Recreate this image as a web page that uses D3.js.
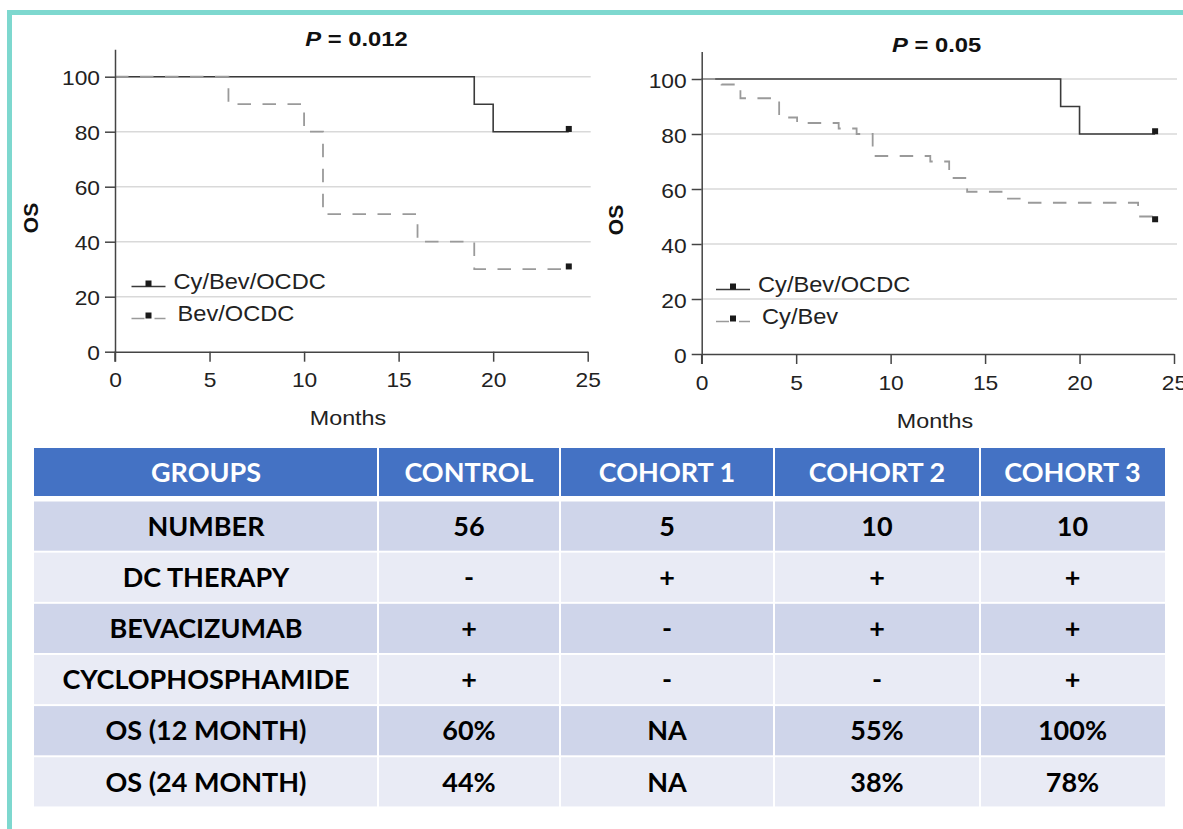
<!DOCTYPE html>
<html><head><meta charset="utf-8">
<script src="https://cdn.jsdelivr.net/npm/d3@7"></script>
<style>
body{margin:0;background:#fff;}
svg{display:block;}
</style>
</head><body>
<svg id="c" width="1183" height="829"></svg>
<script>
// ---------- DATA ----------
const xTicks = [0, 5, 10, 15, 20, 25];
const yTicks = [0, 20, 40, 60, 80, 100];
const gridTicks = [20, 40, 60, 80, 100];

const leftTitle = "0.012";
const rightTitle = "0.05";

// Left panel: Cy/Bev/OCDC vs Bev/OCDC
const leftSolidName = "Cy/Bev/OCDC";
const leftSolidT = [0, 19, 20, 24];
const leftSolidS = [100, 90, 80, 80];
const leftDashName = "Bev/OCDC";
const leftDashT = [0, 6, 10, 11, 16, 19, 24];
const leftDashS = [100, 90, 80, 50, 40, 30, 30];
const leftCensor = [[24, 81], [24, 31]];

// Right panel: Cy/Bev/OCDC vs Cy/Bev
const rightSolidName = "Cy/Bev/OCDC";
const rightSolidT = [0, 19, 20, 24];
const rightSolidS = [100, 90, 80, 80];
const rightDashName = "Cy/Bev";
const rightDashT = [0, 1.05, 2.05, 4.1, 5.05, 7.25, 8.2, 9.05, 12.1, 13.1, 14.05, 16.05, 17.05, 23.1, 24];
const rightDashS = [100, 98, 93, 86, 84, 82, 80, 72, 70, 64, 59, 56.5, 55, 50, 50];
const rightCensor = [[24, 81], [24, 49]];

// Table
const tableHeader = ["GROUPS", "CONTROL", "COHORT 1", "COHORT 2", "COHORT 3"];
const rowLabels = ["NUMBER", "DC THERAPY", "BEVACIZUMAB", "CYCLOPHOSPHAMIDE", "OS (12 MONTH)", "OS (24 MONTH)"];
const controlVals = ["56", "-", "+", "+", "60%", "44%"];
const cohort1Vals = ["5", "+", "-", "-", "NA", "NA"];
const cohort2Vals = ["10", "+", "+", "-", "55%", "38%"];
const cohort3Vals = ["10", "+", "+", "+", "100%", "78%"];

// ---------- DRAW ----------
const svg = d3.select("#c");
svg.append("rect").attr("width", 1183).attr("height", 829).attr("fill", "#fff");

// teal frame
svg.append("rect").attr("x", 7).attr("y", 10).attr("width", 1183).attr("height", 5).attr("fill", "#7ed8cf");
svg.append("rect").attr("x", 7).attr("y", 10).attr("width", 5).attr("height", 829).attr("fill", "#7ed8cf");

const FONT = "'Liberation Sans', Arial, Helvetica, sans-serif";

// text helper with horizontal stretch (source figure text is slightly widened)
function sText(parent, x, y, k, txt, opts) {
  const g = parent.append("g").attr("transform", `translate(${x},${y}) scale(${k},1)`);
  const t = g.append("text").attr("font-family", FONT);
  Object.entries(opts).forEach(([a, v]) => t.attr(a, v));
  if (txt !== null) t.text(txt);
  return t;
}

function panel(cfg) {
  const g = svg.append("g");
  const x = d3.scaleLinear().domain([0, 25]).range([cfg.x0, cfg.x1]);
  const y = d3.scaleLinear().domain([0, 110]).range([cfg.y0, cfg.y0 - 110 * 2.75]);

  // gridlines
  g.append("g").selectAll("line").data(gridTicks).join("line")
    .attr("x1", x(0)).attr("x2", x(25) + 3)
    .attr("y1", d => y(d)).attr("y2", d => y(d))
    .attr("stroke", "#d9d9d9").attr("stroke-width", 1.5);

  const line = d3.line().x(d => x(d[0])).y(d => y(d[1])).curve(d3.curveStepAfter);

  const solid = cfg.solidT.map((t, i) => [t, cfg.solidS[i]]);
  const dash = cfg.dashT.map((t, i) => [t, cfg.dashS[i]]);

  g.append("path").attr("d", line(solid)).attr("fill", "none")
    .attr("stroke", "#3a3a3a").attr("stroke-width", 1.6);
  g.append("path").attr("d", line(dash)).attr("fill", "none")
    .attr("stroke", "#9a9a9a").attr("stroke-width", 1.8)
    .attr("stroke-dasharray", "13.5,11.5");

  // axes
  const TK = 1.14;
  const ax = g.append("g").attr("transform", `translate(0,${y(0)})`)
    .call(d3.axisBottom(x).tickValues(xTicks).tickSize(10).tickSizeOuter(0).tickPadding(11.5));
  const ay = g.append("g").attr("transform", `translate(${x(0)},0)`)
    .call(d3.axisLeft(y).tickValues(yTicks).tickSize(10).tickSizeOuter(0).tickPadding(5));
  [ax, ay].forEach(a => {
    a.select(".domain").attr("stroke", "#444").attr("stroke-width", 1.5);
    a.selectAll(".tick line").attr("stroke", "#444").attr("stroke-width", 1.5);
    a.selectAll(".tick text").attr("font-family", FONT).attr("font-size", 20).attr("fill", "#222")
      .attr("transform", `scale(${TK},1)`);
  });
  ay.selectAll(".tick text").attr("x", -15 / TK).attr("dy", "0.4em");

  // extend y axis below x-axis
  g.append("line").attr("x1", x(0)).attr("x2", x(0)).attr("y1", y(0)).attr("y2", y(0) + 10)
    .attr("stroke", "#444").attr("stroke-width", 1.5);

  // censor marks
  g.append("g").selectAll("rect").data(cfg.censor).join("rect")
    .attr("x", d => x(d[0]) - 3).attr("y", d => y(d[1]) - 3)
    .attr("width", 6).attr("height", 6).attr("fill", "#1a1a1a");

  // title
  const t = sText(g, cfg.titleX, cfg.titleY, 1.16, null, {
    "text-anchor": "middle", "font-weight": "bold", "font-size": 20.5, "fill": "#111"
  });
  t.append("tspan").attr("font-style", "italic").text("P");
  t.append("tspan").text(" = " + cfg.title);

  // axis titles
  sText(g, cfg.monthsX, cfg.monthsY, 1.11, "Months", {
    "text-anchor": "middle", "font-size": 21, "fill": "#222"
  });
  g.append("text").attr("transform", `translate(${cfg.osX},${cfg.osY}) rotate(-90)`)
    .attr("text-anchor", "middle").attr("dominant-baseline", "central")
    .attr("font-family", FONT).attr("font-weight", "bold").attr("font-size", 21)
    .attr("fill", "#111").text("OS");

  // legend
  const lg = g.append("g").attr("transform", `translate(${cfg.legX},${cfg.legY})`);
  lg.append("line").attr("x1", 0).attr("x2", 34).attr("y1", 0).attr("y2", 0)
    .attr("stroke", "#3a3a3a").attr("stroke-width", 1.6);
  lg.append("rect").attr("x", 14).attr("y", -6).attr("width", 6).attr("height", 6).attr("fill", "#1a1a1a");
  sText(lg, 42, 2.5, 1.06, cfg.solidName, { "font-size": 22.3, "fill": "#222" });
  lg.append("line").attr("x1", 0).attr("x2", 34).attr("y1", 32).attr("y2", 32)
    .attr("stroke", "#9a9a9a").attr("stroke-width", 1.6).attr("stroke-dasharray", "13,10");
  lg.append("rect").attr("x", 14).attr("y", 26).attr("width", 6).attr("height", 6).attr("fill", "#1a1a1a");
  sText(lg, 46, 34, 1.06, cfg.dashName, { "font-size": 22.3, "fill": "#222" });
}

panel({
  x0: 115, x1: 587.7, y0: 351.7,
  solidT: leftSolidT, solidS: leftSolidS, dashT: leftDashT, dashS: leftDashS,
  censor: leftCensor, title: leftTitle, titleX: 356.5, titleY: 45.7,
  monthsX: 348, monthsY: 425, osX: 30, osY: 218,
  legX: 131.5, legY: 286.5, solidName: leftSolidName, dashName: leftDashName
});
panel({
  x0: 701.7, x1: 1174, y0: 354,
  solidT: rightSolidT, solidS: rightSolidS, dashT: rightDashT, dashS: rightDashS,
  censor: rightCensor, title: rightTitle, titleX: 936.7, titleY: 51.5,
  monthsX: 935, monthsY: 428, osX: 615.5, osY: 220,
  legX: 716, legY: 289.5, solidName: rightSolidName, dashName: rightDashName
});

// ---------- TABLE ----------
const colEdges = [34, 378, 560, 774, 980, 1165];
const TFONT = "Lato, 'Open Sans', sans-serif";
const headerTop = 448, headerBot = 496, rowTop = 501.5, rowPitch = 51.15, rowH = 49.2;
const columns = [rowLabels, controlVals, cohort1Vals, cohort2Vals, cohort3Vals];

const tg = svg.append("g");
tableHeader.forEach((h, c) => {
  tg.append("rect").attr("x", colEdges[c] + (c ? 1 : 0)).attr("y", headerTop)
    .attr("width", colEdges[c + 1] - colEdges[c] - (c ? 1 : 0) - (c < 4 ? 1 : 0))
    .attr("height", headerBot - headerTop).attr("fill", "#4472c4");
  tg.append("text").attr("x", (colEdges[c] + colEdges[c + 1]) / 2).attr("y", (headerTop + headerBot) / 2)
    .attr("dy", "0.36em").attr("text-anchor", "middle").attr("font-family", TFONT)
    .attr("font-weight", "bold").attr("font-size", 27).attr("fill", "#fff").text(h);
});
rowLabels.forEach((r, i) => {
  const yTop = rowTop + i * rowPitch;
  columns.forEach((col, c) => {
    tg.append("rect").attr("x", colEdges[c] + (c ? 1 : 0)).attr("y", yTop)
      .attr("width", colEdges[c + 1] - colEdges[c] - (c ? 1 : 0) - (c < 4 ? 1 : 0))
      .attr("height", rowH).attr("fill", i % 2 === 0 ? "#cfd5ea" : "#e9ebf5");
    tg.append("text").attr("x", (colEdges[c] + colEdges[c + 1]) / 2).attr("y", yTop + rowH / 2)
      .attr("dy", "0.36em").attr("text-anchor", "middle").attr("font-family", TFONT)
      .attr("font-weight", "bold").attr("font-size", 27).attr("fill", "#000").text(col[i]);
  });
});
</script>
</body></html>
